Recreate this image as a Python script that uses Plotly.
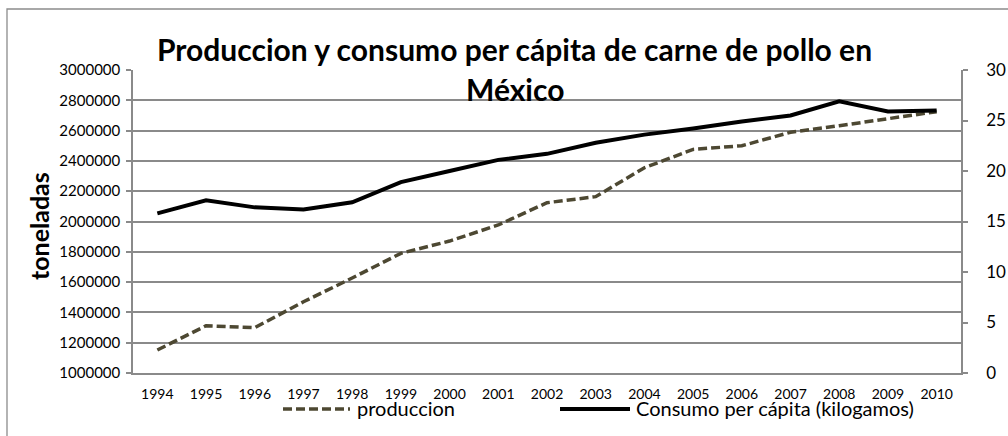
import plotly.graph_objects as go

# Years on the category axis
years = ["1994", "1995", "1996", "1997", "1998", "1999", "2000", "2001", "2002",
         "2003", "2004", "2005", "2006", "2007", "2008", "2009", "2010"]

# Chicken meat production (tonnes) - left axis
produccion = [1152000, 1312000, 1299000, 1470000, 1627000, 1790000, 1871000, 1977000,
              2124000, 2164000, 2355000, 2476000, 2500000, 2589000, 2632000, 2681000, 2725000]

# Per-capita consumption (kg) - right axis
consumo = [15.8, 17.1, 16.4, 16.2, 16.9, 18.9, 20.0, 21.1, 21.7, 22.8, 23.6, 24.2,
           24.9, 25.5, 26.9, 25.9, 26.0]

left_ticks = [1000000 + 200000 * i for i in range(11)]
right_ticks = [0, 5, 10, 15, 20, 25, 30]

W, H = 1008, 436
ML, MR, MT, MB = 133, 47, 70, 63
PW, PH = W - ML - MR, H - MT - MB

OLIVE = "#4d4832"
GRID = "#8a8a8a"
FONT = "Lato"


def px(x):
    return (x - ML) / PW


def py(y):
    return (H - MB - y) / PH


fig = go.Figure()
fig.add_trace(go.Scatter(
    x=years, y=produccion, mode="lines", name="produccion",
    line=dict(color=OLIVE, width=3.5, dash="9px,4px"), showlegend=False,
    yaxis="y"))
fig.add_trace(go.Scatter(
    x=years, y=consumo, mode="lines", name="Consumo per cápita (kilogamos)",
    line=dict(color="#000000", width=4), showlegend=False, yaxis="y2"))

shapes = [
    # outer chart frame
    dict(type="rect", xref="paper", yref="paper",
         x0=px(7), x1=px(1020), y0=py(450), y1=py(9),
         line=dict(color="#8c8c8c", width=1.3), fillcolor="rgba(0,0,0,0)", layer="below"),
    # legend samples
    dict(type="line", xref="paper", yref="paper", x0=px(283), x1=px(350), y0=py(409), y1=py(409),
         line=dict(color=OLIVE, width=3.5, dash="9px,4px")),
    dict(type="line", xref="paper", yref="paper", x0=px(560), x1=px(630), y0=py(409), y1=py(409),
         line=dict(color="#000000", width=4)),
]

annotations = [
    dict(text="<b>Produccion y consumo per cápita de carne de pollo en</b>", xref="paper", yref="paper",
         x=px(514), y=py(49), xanchor="center", yanchor="middle", showarrow=False,
         font=dict(family=FONT, size=30, color="#000000")),
    dict(text="<b>México</b>", xref="paper", yref="paper",
         x=px(515), y=py(89), xanchor="center", yanchor="middle", showarrow=False,
         font=dict(family=FONT, size=30, color="#000000")),
    dict(text="<b>toneladas</b>", xref="paper", yref="paper", textangle=-90,
         x=px(39), y=py(226), xanchor="center", yanchor="middle", showarrow=False,
         font=dict(family=FONT, size=25, color="#000000")),
    dict(text="produccion", xref="paper", yref="paper",
         x=px(355), y=py(408), xanchor="left", yanchor="middle", showarrow=False,
         font=dict(family=FONT, size=20, color="#000000")),
    dict(text="Consumo per cápita (kilogamos)", xref="paper", yref="paper",
         x=px(634), y=py(408), xanchor="left", yanchor="middle", showarrow=False,
         font=dict(family=FONT, size=20, color="#000000")),
]

fig.update_layout(
    width=W, height=H,
    margin=dict(l=ML, r=MR, t=MT, b=MB, pad=0, autoexpand=False),
    paper_bgcolor="#ffffff", plot_bgcolor="#ffffff",
    font=dict(family=FONT, color="#000000"),
    showlegend=False,
    shapes=shapes,
    annotations=annotations,
    xaxis=dict(
        type="category", range=[-0.5, len(years) - 0.5], automargin=False,
        showgrid=False, showline=True, linecolor=GRID, linewidth=1.5,
        ticks="", tickfont=dict(family=FONT, size=14), ticklabelstandoff=7,
        zeroline=False, fixedrange=True),
    yaxis=dict(
        range=[1000000, 3000000], tickvals=left_ticks, tickformat="d", automargin=False,
        showgrid=True, gridcolor=GRID, gridwidth=1.5,
        showline=True, linecolor=GRID, linewidth=1.5,
        ticks="outside", ticklen=5, tickcolor=GRID, tickwidth=1.5,
        tickfont=dict(family=FONT, size=15), ticklabelstandoff=3,
        zeroline=False, fixedrange=True),
    yaxis2=dict(
        range=[0, 30], tickvals=right_ticks, overlaying="y", side="right", automargin=False,
        showgrid=False, showline=True, linecolor=GRID, linewidth=1.5,
        ticks="outside", ticklen=5, tickcolor=GRID, tickwidth=1.5,
        tickfont=dict(family=FONT, size=17), ticklabelstandoff=15,
        zeroline=False, fixedrange=True),
)

fig.write_html("out.html")
